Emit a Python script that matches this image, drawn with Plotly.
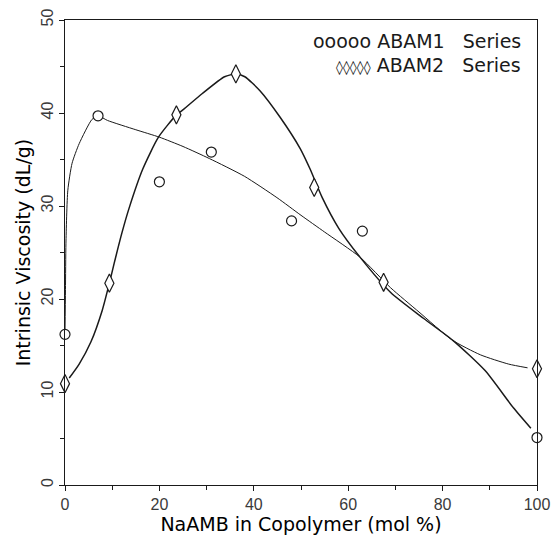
import plotly.graph_objects as go

# Measured data
abam1_x = [0, 7, 20, 31, 48, 63, 100]
abam1_y = [16.2, 39.7, 32.6, 35.8, 28.4, 27.3, 5.1]
abam2_x = [0, 9.4, 23.6, 36.2, 52.8, 67.5, 100]
abam2_y = [10.9, 21.7, 39.8, 44.2, 32.0, 21.8, 12.5]

# Fitted curves
fit1_x = [0, 0.1, 0.2, 0.6, 1.5, 3, 5.7, 7, 9, 15, 20, 25, 30.6, 38, 44.9, 50, 55, 62.5, 69, 75, 82, 88, 94, 98]
fit1_y = [16.5, 21, 26, 31.7, 34.6, 36.7, 39.3, 39.7, 39.2, 38.2, 37.4, 36.4, 35.1, 33.2, 30.9, 29.0, 27.2, 24.5, 21.2, 18.6, 15.6, 14.0, 13.0, 12.6]
fit2_x = [0.9, 3, 5.5, 7.9, 9.4, 10.4, 12, 13.6, 16.5, 19.8, 23.6, 24.9, 29.1, 33.8, 36.2, 38.1, 41.3, 45.5, 49.8, 51.9, 54.5, 58, 62.5, 69, 76, 82.3, 89, 95, 98.7]
fit2_y = [11.5, 13.0, 15.4, 18.8, 21.7, 23.8, 27.0, 29.8, 34.0, 37.4, 39.8, 40.3, 42.1, 43.9, 44.2, 43.9, 42.4, 39.6, 36.2, 34.0, 30.9, 27.6, 24.5, 20.7, 17.9, 15.5, 12.3, 8.3, 6.1]

x_ticks = [0, 20, 40, 60, 80, 100]
y_ticks = [0, 10, 20, 30, 40, 50]
legend_symbols = ["ooooo", "\u25ca\u25ca\u25ca\u25ca\u25ca"]
legend_symbol_sizes = [19, 14]
legend_names = ["ABAM1", "ABAM2"]

ink = "#1a1a1a"
fig = go.Figure()
fig.add_trace(go.Scatter(x=fit1_x, y=fit1_y, mode="lines",
                         line=dict(color=ink, width=1, shape="spline", smoothing=0.6),
                         showlegend=False, cliponaxis=False, hoverinfo="skip"))
fig.add_trace(go.Scatter(x=fit2_x, y=fit2_y, mode="lines",
                         line=dict(color=ink, width=1.5, shape="spline", smoothing=0.6),
                         showlegend=False, cliponaxis=False, hoverinfo="skip"))
fig.add_trace(go.Scatter(x=abam1_x, y=abam1_y, mode="markers", name="ABAM1 Series",
                         marker=dict(symbol="circle", size=10, color="white", line=dict(color=ink, width=1.2)),
                         showlegend=False, cliponaxis=False))
fig.add_trace(go.Scatter(x=abam2_x, y=abam2_y, mode="markers", name="ABAM2 Series",
                         marker=dict(symbol="diamond-tall", size=13, color="white", line=dict(color=ink, width=1.2)),
                         showlegend=False, cliponaxis=False))

for i, (s, ss, n) in enumerate(zip(legend_symbols, legend_symbol_sizes, legend_names)):
    fig.add_annotation(x=0.968, y=0.955 - i * 0.052, xref="paper", yref="paper", xanchor="right", yanchor="middle",
                       text=f"<span style='font-size:{ss}px'>{s}</span> {n}&nbsp;&nbsp;&nbsp;Series",
                       showarrow=False, borderpad=0,
                       font=dict(family="DejaVu Sans", size=19, color=ink))

fig.update_layout(
    width=551, height=542,
    margin=dict(l=65, r=14, t=20, b=57),
    plot_bgcolor="white", paper_bgcolor="white",
    showlegend=False,
)
fig.update_xaxes(range=[0, 100], tickvals=x_ticks, ticktext=[str(v) for v in x_ticks], automargin=False,
                 ticks="outside", ticklen=5, tickcolor=ink, minor=dict(dtick=10, ticks="outside", ticklen=4, tickcolor=ink),
                 showline=True, linecolor=ink, linewidth=1.2, mirror=True, showgrid=False, zeroline=False,
                 tickfont=dict(family="Liberation Sans", size=16, color="#3a3a3a"),
                 title=dict(text="NaAMB in Copolymer (mol %)", standoff=5,
                            font=dict(family="DejaVu Sans", size=19, color="#000000")))
fig.update_yaxes(range=[0, 50], tickvals=y_ticks, ticktext=[str(v) for v in y_ticks], tickangle=-90, automargin=False,
                 ticks="outside", ticklen=5, tickcolor=ink, minor=dict(dtick=5, ticks="outside", ticklen=4, tickcolor=ink),
                 showline=True, linecolor=ink, linewidth=1.2, mirror=True, showgrid=False, zeroline=False,
                 tickfont=dict(family="Liberation Sans", size=16, color="#3a3a3a"),
                 title=dict(text="Intrinsic Viscosity (dL/g)", standoff=2,
                            font=dict(family="DejaVu Sans", size=19, color="#000000")))

fig.write_html("out.html", config={"displayModeBar": False},
               post_script="document.body.style.margin='0';document.body.style.overflow='hidden';")
